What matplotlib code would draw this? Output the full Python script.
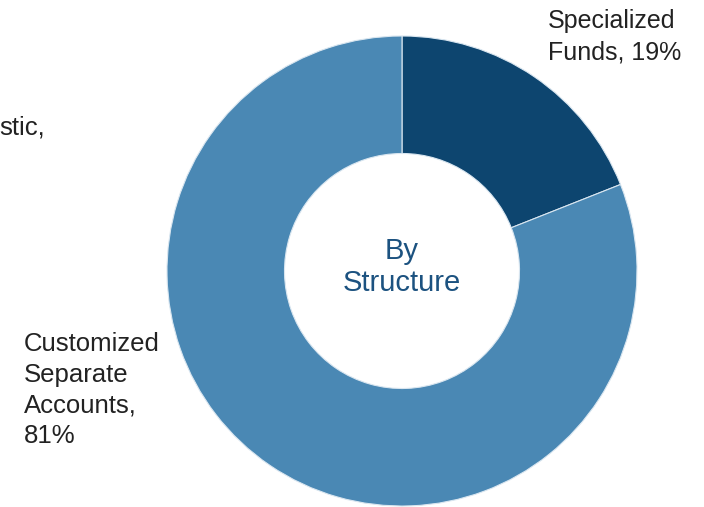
import matplotlib.pyplot as plt

plt.rcParams['font.family'] = ['Liberation Sans', 'DejaVu Sans']

labels = ["Specialized\nFunds, 19%", "Customized\nSeparate\nAccounts,\n81%"]
shares = [19, 81]
colors = ["#0d456f", "#4a88b4"]
center_text = "By\nStructure"
cut_text = "stic,"

W, H = 704, 507
fig = plt.figure(figsize=(W / 100, H / 100), dpi=100)
ax = fig.add_axes([0, 0, 1, 1])

cx, cy, r = 402, H - 271, 235
ax.pie(shares, colors=colors, startangle=90, counterclock=False,
       center=(cx, cy), radius=r, frame=True,
       wedgeprops=dict(width=r * 0.5, edgecolor='#d9e6f0', linewidth=0.8))
ax.set_xlim(0, W)
ax.set_ylim(0, H)
ax.set_aspect('equal')
ax.axis('off')

ax.text(cx, H - 267, center_text, ha='center', va='center', fontsize=21,
        color='#1c5280', linespacing=1.2)
ax.text(548, H - 37, labels[0], ha='left', va='center', fontsize=18,
        color='#222222', linespacing=1.38)
ax.text(24, H - 390, labels[1], ha='left', va='center', fontsize=18.5,
        color='#222222', linespacing=1.36)
ax.text(-1, H - 127, cut_text, ha='left', va='center', fontsize=18.5,
        color='#222222')

fig.savefig("out.png", dpi=100)
